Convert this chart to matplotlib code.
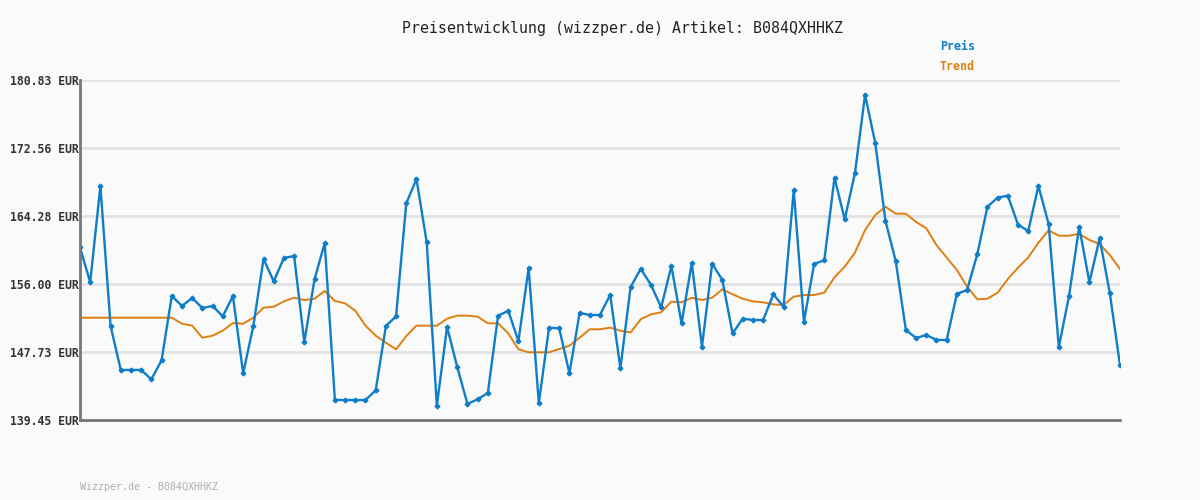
import matplotlib
matplotlib.use("Agg")
import matplotlib.pyplot as plt
import numpy as np

# Preis (blue) and Trend (orange)
preis = [160.47, 156.21, 167.93, 150.89, 145.54, 145.54, 145.54, 144.40, 146.71, 154.54,
         153.33, 154.30, 153.08, 153.33, 152.07, 154.54, 145.13, 150.89, 159.05, 156.33,
         159.17, 159.41, 148.90, 156.57, 160.99, 141.88, 141.88, 141.88, 141.88, 143.06,
         150.89, 152.07, 165.82, 168.78, 161.11, 141.19, 150.77, 145.90, 141.40, 141.97,
         142.74, 152.11, 152.76, 149.03, 157.95, 141.48, 150.69, 150.61, 145.13, 152.47,
         152.23, 152.23, 154.70, 145.74, 155.64, 157.85, 155.88, 153.16, 158.19, 151.22,
         158.56, 148.37, 158.47, 156.49, 150.00, 151.78, 151.62, 151.62, 154.75, 153.24,
         167.44, 151.41, 158.44, 158.89, 168.94, 163.87, 169.47, 179.04, 173.12, 163.67,
         158.80, 150.40, 149.43, 149.80, 149.19, 149.19, 154.79, 155.27, 159.61, 165.41,
         166.51, 166.75, 163.22, 162.45, 167.93, 163.30, 148.33, 154.54, 162.94, 156.21,
         161.56, 154.91, 146.10]
trend = [151.90, 151.90, 151.90, 151.90, 151.90, 151.90, 151.90, 151.90, 151.90, 151.90,
         151.17, 150.93, 149.47, 149.71, 150.32, 151.25, 151.17, 151.90, 153.12, 153.24,
         153.89, 154.33, 154.05, 154.21, 155.15, 153.93, 153.65, 152.75, 150.93, 149.71,
         148.86, 148.05, 149.67, 150.93, 150.93, 150.93, 151.78, 152.15, 152.15, 152.03,
         151.22, 151.22, 150.00, 148.05, 147.69, 147.69, 147.69, 148.09, 148.49, 149.47,
         150.49, 150.49, 150.69, 150.32, 150.10, 151.72, 152.31, 152.56, 153.85, 153.77,
         154.33, 154.05, 154.33, 155.36, 154.75, 154.21, 153.89, 153.77, 153.52, 153.45,
         154.46, 154.66, 154.66, 154.95, 156.82, 158.11, 159.81, 162.57, 164.40, 165.41,
         164.56, 164.56, 163.55, 162.78, 160.75, 159.21, 157.71, 155.68, 154.14, 154.21,
         154.95, 156.61, 157.99, 159.24, 161.03, 162.54, 161.88, 161.88, 162.12, 161.36,
         160.87, 159.53, 157.83]
y_ticks = [139.45, 147.73, 156.00, 164.28, 172.56, 180.83]

blue = '#0f7dc8'
orange = '#df7f10'
bg = '#fafafa'
mono = ['DejaVu Sans Mono']

fig = plt.figure(figsize=(12, 5), dpi=100, facecolor=bg)
ax = fig.add_axes([80 / 1200, 80 / 500, 1040 / 1200, 340 / 500], facecolor=bg)

x = np.arange(len(preis))
ax.plot(x, trend, color=orange, lw=1.4, zorder=3)
ax.plot(x, preis, color=blue, lw=1.7, marker='P', markersize=3.0, zorder=4)

ax.set_xlim(0, len(preis) - 1)
ax.set_ylim(y_ticks[0], y_ticks[-1])
ax.set_yticks(y_ticks)
ax.set_yticklabels(['%.2f EUR' % v for v in y_ticks], family=mono,
                   fontsize=8.3, fontweight='bold', color='#333333')
ax.set_xticks([])
ax.tick_params(axis='y', length=0, pad=1)
ax.grid(axis='y', color='#e3e3e3', lw=2, zorder=0)
for s in ['top', 'right']:
    ax.spines[s].set_visible(False)
for s in ['left', 'bottom']:
    ax.spines[s].set_color('#777777')
    ax.spines[s].set_linewidth(2.0)
    ax.spines[s].set_zorder(5)

fig.text(623 / 1200, 1 - 28 / 500, 'Preisentwicklung (wizzper.de) Artikel: B084QXHHKZ',
         family=mono, fontsize=10.7, color='#222222', ha='center', va='center')
fig.text(940 / 1200, 1 - 47 / 500, 'Preis', family=mono, fontsize=8.4,
         fontweight='bold', color=blue, ha='left', va='center')
fig.text(940 / 1200, 1 - 67 / 500, 'Trend', family=mono, fontsize=8.4,
         fontweight='bold', color=orange, ha='left', va='center')
fig.text(80 / 1200, 1 - 487 / 500, 'Wizzper.de - B084QXHHKZ', family=mono,
         fontsize=7.2, color='#b0b0b0', ha='left', va='center')

fig.savefig('out.png', dpi=100, facecolor=bg)
